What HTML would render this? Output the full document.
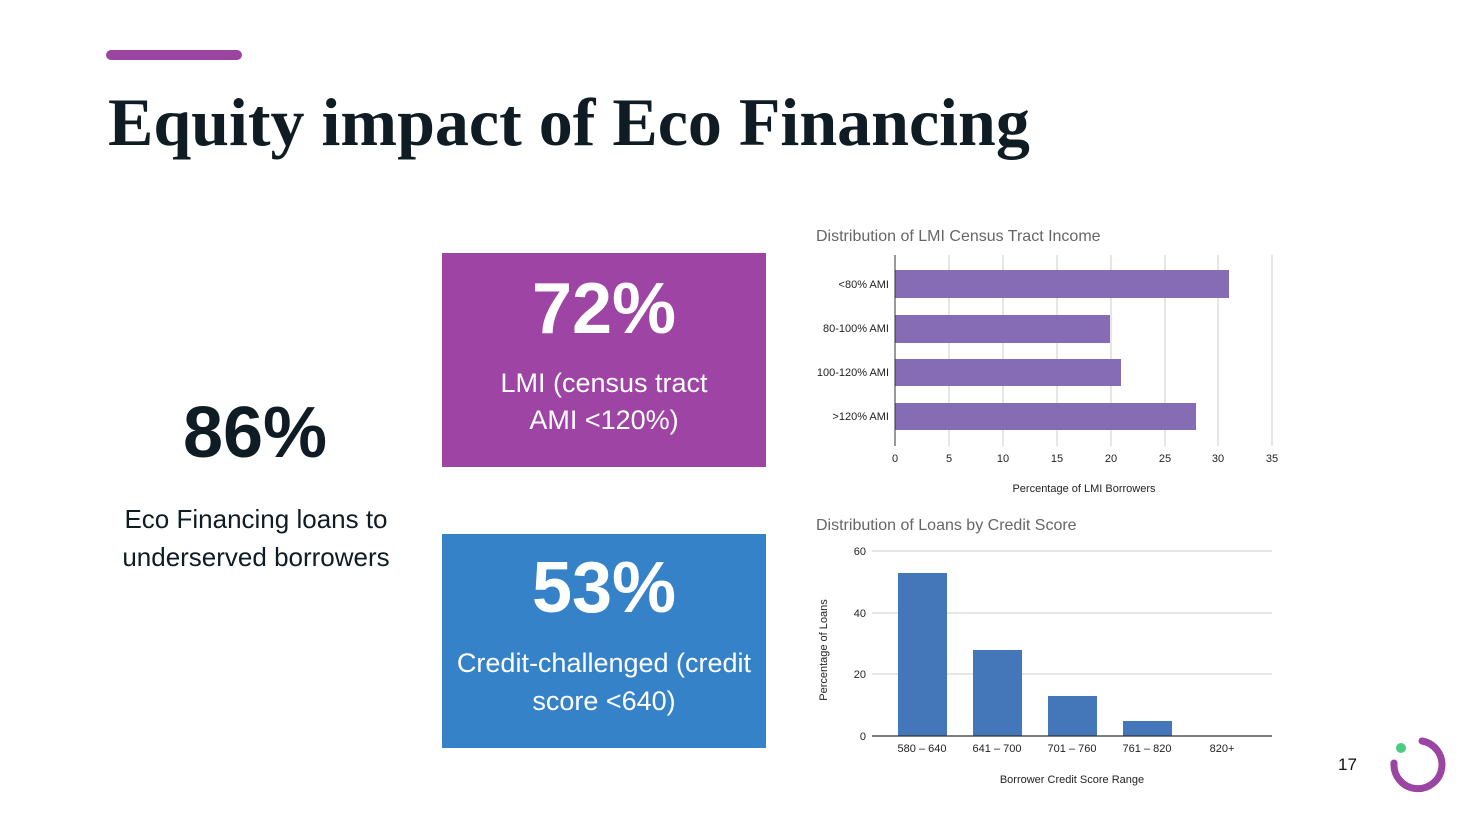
<!DOCTYPE html>
<html><head><meta charset="utf-8"><style>
body{margin:0;width:1463px;height:813px;background:#fff;position:relative;overflow:hidden;font-family:"Liberation Sans",sans-serif}
.a{position:absolute}
</style></head><body>
<div class="a" style="left:106px;top:50px;width:136px;height:10px;border-radius:5px;background:#9b45a3"></div>
<div class="a" style="left:108px;top:83px;font-family:'Liberation Serif',serif;font-weight:bold;font-size:68px;color:#0f1c24;white-space:nowrap">Equity impact of Eco Financing</div>
<div class="a" style="left:110px;top:392px;width:290px;text-align:center;font-weight:bold;font-size:72px;color:#0f1c24">86%</div>
<div class="a" style="left:100px;top:500px;width:312px;text-align:center;font-size:26px;line-height:38px;color:#0f1c24">Eco Financing loans to underserved borrowers</div>
<div class="a" style="left:442px;top:253px;width:324px;height:214px;background:#9d44a4;color:#fff;text-align:center">
<div style="font-weight:bold;font-size:72px;margin-top:14px;line-height:84px">72%</div>
<div style="font-size:27px;line-height:37px;margin-top:14px">LMI (census tract<br>AMI &lt;120%)</div></div>
<div class="a" style="left:442px;top:534px;width:324px;height:214px;background:#3582c9;color:#fff;text-align:center">
<div style="font-weight:bold;font-size:72px;margin-top:12px;line-height:84px">53%</div>
<div style="font-size:27px;line-height:38px;margin-top:14px">Credit-challenged (credit<br>score &lt;640)</div></div>
<svg class="a" style="left:0;top:0" width="1463" height="813" font-family="Liberation Sans, sans-serif">
<text x="816" y="241" font-size="16" fill="#666">Distribution of LMI Census Tract Income</text>
<g stroke="#ddd" stroke-width="1.5">
<line x1="949" y1="255" x2="949" y2="446"/><line x1="1003" y1="255" x2="1003" y2="446"/><line x1="1057" y1="255" x2="1057" y2="446"/><line x1="1111" y1="255" x2="1111" y2="446"/><line x1="1165" y1="255" x2="1165" y2="446"/><line x1="1218" y1="255" x2="1218" y2="446"/><line x1="1272" y1="255" x2="1272" y2="446"/></g>
<g fill="#866bb5"><rect x="895" y="270" width="334" height="28"/><rect x="895" y="315" width="215" height="28"/><rect x="895" y="359" width="226" height="27"/><rect x="895" y="403" width="301" height="27"/></g>
<line x1="895" y1="255" x2="895" y2="446" stroke="#333" stroke-width="1"/>
<g font-size="11" fill="#222" text-anchor="end"><text x="889" y="288">&lt;80% AMI</text><text x="889" y="332">80-100% AMI</text><text x="889" y="376">100-120% AMI</text><text x="889" y="420">&gt;120% AMI</text></g>
<g font-size="11" fill="#222" text-anchor="middle"><text x="895" y="462">0</text><text x="949" y="462">5</text><text x="1003" y="462">10</text><text x="1057" y="462">15</text><text x="1111" y="462">20</text><text x="1165" y="462">25</text><text x="1218" y="462">30</text><text x="1272" y="462">35</text>
<text x="1084" y="492">Percentage of LMI Borrowers</text></g>
<text x="816" y="530" font-size="16" fill="#666">Distribution of Loans by Credit Score</text>
<g stroke="#ddd" stroke-width="1.5"><line x1="872" y1="551" x2="1272" y2="551"/><line x1="872" y1="613" x2="1272" y2="613"/><line x1="872" y1="674" x2="1272" y2="674"/></g>
<g fill="#4477ba"><rect x="898" y="573" width="49" height="163"/><rect x="973" y="650" width="49" height="86"/><rect x="1048" y="696" width="49" height="40"/><rect x="1123" y="721" width="49" height="15"/></g>
<line x1="872" y1="736" x2="1272" y2="736" stroke="#333" stroke-width="1.2"/>
<g font-size="11" fill="#222" text-anchor="end"><text x="866" y="555">60</text><text x="866" y="617">40</text><text x="866" y="678">20</text><text x="866" y="740">0</text></g>
<g font-size="11" fill="#222" text-anchor="middle"><text x="922" y="752">580 – 640</text><text x="997" y="752">641 – 700</text><text x="1072" y="752">701 – 760</text><text x="1147" y="752">761 – 820</text><text x="1222" y="752">820+</text>
<text x="1072" y="783">Borrower Credit Score Range</text>
<text transform="translate(827,650) rotate(-90)">Percentage of Loans</text></g>
<text x="1338" y="770" font-size="17" fill="#111">17</text>
<circle cx="1401" cy="748" r="5" fill="#4ccb85"/>
<path d="M1422 741 A24 24 0 1 1 1394 763" fill="none" stroke="#9b45a3" stroke-width="7" stroke-linecap="round"/>
</svg>
</body></html>
